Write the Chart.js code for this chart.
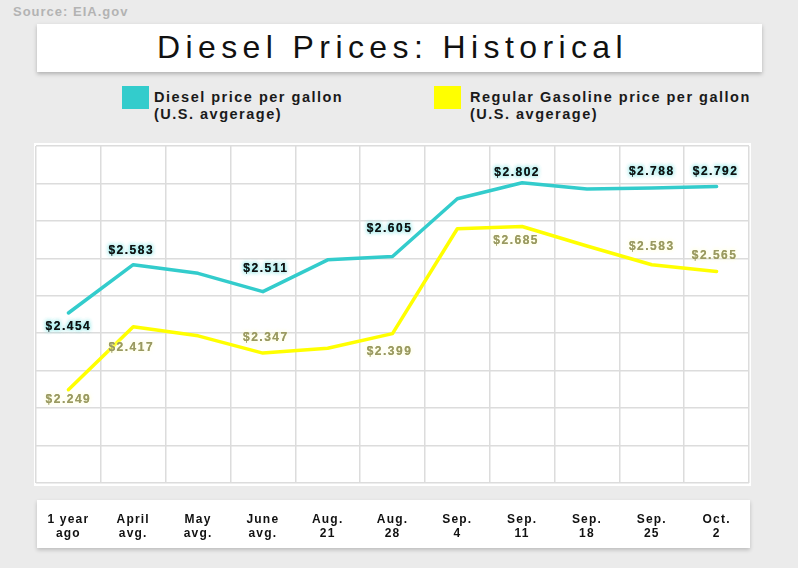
<!DOCTYPE html>
<html>
<head>
<meta charset="utf-8">
<script src="https://cdn.jsdelivr.net/npm/chart.js@4.4.0/dist/chart.umd.min.js"></script>
<style>
  html, body { margin: 0; padding: 0; }
  body {
    width: 798px; height: 568px; background: #ebebeb;
    position: relative; overflow: hidden;
    font-family: "Liberation Sans", Arial, sans-serif;
  }
  .box { position: absolute; background: #fff; }
  #source {
    position: absolute; left: 13px; top: 3.5px;
    font-size: 13px; line-height: 16px; font-weight: bold;
    color: #b3b3b3; letter-spacing: 1px; white-space: nowrap;
  }
  #titleBox { left: 37px; top: 24px; width: 725px; height: 48px; box-shadow: 0 2px 4px rgba(0,0,0,0.25); }
  #title {
    position: absolute; left: 157px; top: 26.6px;
    font-size: 32px; line-height: 40px; letter-spacing: 5.4px;
    color: #111; white-space: nowrap;
  }
  .legend-item { position: absolute; top: 86px; }
  .swatch { position: absolute; left: 0; top: 0; width: 27px; height: 23px; }
  .legend-text {
    position: absolute; top: 3.4px;
    font-size: 14.5px; line-height: 16.6px; font-weight: bold;
    letter-spacing: 1.5px; color: #1a1a1a; white-space: nowrap;
  }
  #plotBox { left: 34px; top: 143px; width: 717px; height: 343px; }
  #axisBox { left: 37px; top: 500px; width: 713px; height: 48px; box-shadow: 0 2px 4px rgba(0,0,0,0.2); }
  #chartWrap { position: absolute; left: 0; top: 0; width: 798px; height: 568px; }
</style>
</head>
<body>
<div id="source">Source: EIA.gov</div>
<div class="box" id="titleBox"></div>
<div id="title">Diesel Prices: Historical</div>

<div class="legend-item" style="left:122px">
  <div class="swatch" style="background:#33cccc"></div>
  <div class="legend-text" style="left:32px">Diesel price per gallon<br>(U.S. avgerage)</div>
</div>
<div class="legend-item" style="left:434px">
  <div class="swatch" style="background:#ffff00"></div>
  <div class="legend-text" style="left:36px">Regular Gasoline price per gallon<br>(U.S. avgerage)</div>
</div>

<div class="box" id="plotBox"></div>
<div class="box" id="axisBox"></div>
<div id="chartWrap"><canvas id="dieselChart"></canvas></div>

<script>
// --- data ---
var categories = [
  ['1 year', 'ago'], ['April', 'avg.'], ['May', 'avg.'], ['June', 'avg.'],
  ['Aug.', '21'], ['Aug.', '28'], ['Sep.', '4'], ['Sep.', '11'],
  ['Sep.', '18'], ['Sep.', '25'], ['Oct.', '2']
];
var dieselPrices   = [2.454, 2.583, 2.560, 2.511, 2.596, 2.605, 2.759, 2.802, 2.785, 2.788, 2.792];
var gasolinePrices = [2.249, 2.417, 2.393, 2.347, 2.360, 2.399, 2.679, 2.685, 2.633, 2.583, 2.565];
var yMin = 2.0, yMax = 2.9, yStep = 0.1;
var labeledPoints = [0, 1, 3, 5, 7, 9, 10];

// label placement relative to the point [dx, dy]
var dieselLabelOffsets = [[0, 14], [-2, -14], null, [3, -23], null, [-3, -28], null, [-5, -10], null, [0, -16], [-1, -15]];
var gasLabelOffsets    = [[0, 10], [-2, 21], null, [3, -15], null, [-3, 18], null, [-6, 14], null, [0, -18], [-2, -16]];

var FONT = '"Liberation Sans", Arial, sans-serif';

var pointLabels = {
  id: 'pointLabels',
  beforeDraw: function (chart) {
    chart.ctx.letterSpacing = '1.2px';
  },
  afterDatasetsDraw: function (chart) {
    var ctx = chart.ctx;
    chart.data.datasets.forEach(function (ds, di) {
      var meta = chart.getDatasetMeta(di);
      labeledPoints.forEach(function (i) {
        var pt = meta.data[i];
        var off = ds.labelOffsets[i];
        var text = '$' + ds.data[i].toFixed(3);
        ctx.save();
        ctx.font = 'bold 12px ' + FONT;
        ctx.letterSpacing = '1.5px';
        ctx.textAlign = 'center';
        ctx.textBaseline = 'middle';
        ctx.fillStyle = ds.labelColor;
        ctx.shadowColor = ds.labelGlow;
        ctx.shadowBlur = 4;
        ctx.fillText(text, pt.x + off[0], pt.y + off[1]);
        ctx.fillText(text, pt.x + off[0], pt.y + off[1]);
        ctx.restore();
      });
    });
  }
};

var ctx = document.getElementById('dieselChart').getContext('2d');
new Chart(ctx, {
  type: 'line',
  data: {
    labels: categories,
    datasets: [{
      label: 'Diesel price per gallon (U.S. avgerage)',
      data: dieselPrices,
      borderColor: '#33cccc',
      borderWidth: 3.5,
      pointRadius: 0,
      tension: 0,
      borderCapStyle: 'round',
      borderJoinStyle: 'round',
      labelOffsets: dieselLabelOffsets,
      labelColor: '#111111',
      labelGlow: 'rgba(110, 225, 225, 0.9)'
    }, {
      label: 'Regular Gasoline price per gallon (U.S. avgerage)',
      data: gasolinePrices,
      borderColor: '#ffff00',
      borderWidth: 3.5,
      pointRadius: 0,
      tension: 0,
      borderCapStyle: 'round',
      borderJoinStyle: 'round',
      labelOffsets: gasLabelOffsets,
      labelColor: '#9a9a62',
      labelGlow: 'rgba(255, 255, 200, 0.6)'
    }]
  },
  options: {
    responsive: true,
    maintainAspectRatio: false,
    animation: false,
    layout: { padding: { left: 36, right: 49, top: 146, bottom: 0 } },
    plugins: {
      legend: { display: false },
      tooltip: { enabled: false }
    },
    scales: {
      x: {
        offset: true,
        afterFit: function (scale) { scale.height = 85; },
        grid: { offset: true, drawTicks: false, color: '#dcdcdc', lineWidth: 1.5 },
        border: { display: false },
        ticks: {
          autoSkip: false, maxRotation: 0, minRotation: 0,
          padding: 30,
          color: '#111',
          font: { family: FONT, size: 12, weight: 'bold', lineHeight: 1.17 }
        }
      },
      y: {
        min: yMin, max: yMax,
        grid: { drawTicks: false, color: '#dcdcdc', lineWidth: 1.5 },
        border: { display: false },
        ticks: { stepSize: yStep, display: false }
      }
    }
  },
  plugins: [pointLabels]
});
</script>
</body>
</html>
